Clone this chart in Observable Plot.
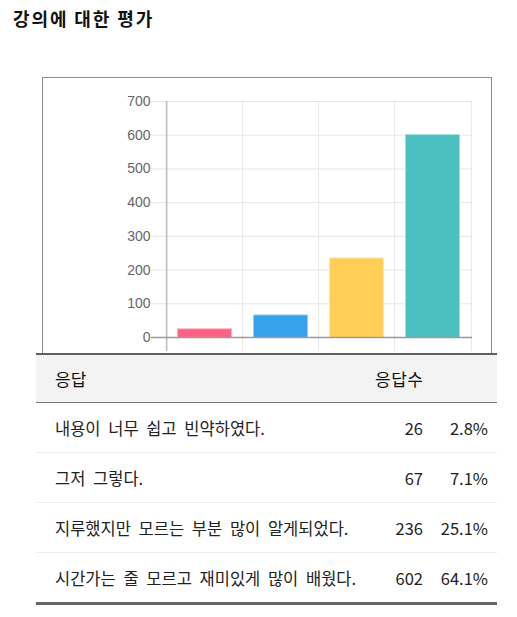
<!DOCTYPE html>
<html>
<head>
<meta charset="utf-8">
<script src="https://cdn.jsdelivr.net/npm/d3@7"></script>
<script src="https://cdn.jsdelivr.net/npm/@observablehq/plot@0.6"></script>
<style>
  html, body { margin: 0; padding: 0; background: #fff; }
  #page { position: relative; width: 517px; height: 617px; overflow: hidden; }
  #title { position: absolute; left: 13px; top: 5px; font: bold 18px "Noto Sans CJK KR", sans-serif; letter-spacing: 1.9px; color: #111; }
  #chartbox { position: absolute; left: 42px; top: 77px; width: 448px; height: 290px; border: 1px solid #8c8c8c; overflow: hidden; background: #fff; }
  #tbl { position: absolute; left: 36px; top: 353px; width: 461px; border-collapse: collapse; table-layout: fixed; background: #fff;
         font: 16.5px "Noto Sans CJK KR", sans-serif; color: #222; border-top: 2px solid #5f5f5f; border-bottom: 3px solid #666; }
  #tbl th { background: #f3f3f3; height: 47px; font-weight: normal; font-size: 17px; color: #111; border-bottom: 1px solid #777; padding: 0; text-align: left; }
  #tbl td { height: 49px; border-bottom: 1px solid #ececec; padding: 0; }
  #tbl tr:last-child td { border-bottom: none; }
  #tbl .c1 { padding-left: 19px; word-spacing: 4px; }
  #tbl .c2 { text-align: right; padding-right: 5px; }
  #tbl .c3 { text-align: right; padding-right: 9px; }
  #tbl th.h2 { padding-left: 5px; letter-spacing: 0.5px; }
</style>
</head>
<body>
<div id="page">
  <div id="title">강의에 대한 평가</div>
  <div id="chartbox"></div>
  <table id="tbl">
    <colgroup><col style="width:334px"><col style="width:58px"><col style="width:69px"></colgroup>
    <thead><tr><th class="c1" id="h1"></th><th class="h2" colspan="2" id="h2"></th></tr></thead>
    <tbody id="tb"></tbody>
  </table>
</div>
<script>
const categories = [
  "내용이 너무 쉽고 빈약하였다.",
  "그저 그렇다.",
  "지루했지만 모르는 부분 많이 알게되었다.",
  "시간가는 줄 모르고 재미있게 많이 배웠다."
];
const counts = [26, 67, 236, 602];
const percents = [2.8, 7.1, 25.1, 64.1];
const barColors = ["#FF6384", "#36A2EB", "#FFCE56", "#4BC0C0"];
const barBorders = ["#ffb1c1", "#9ad0f5", "#ffe6aa", "#a5dfdf"];
const yTicks = [0, 100, 200, 300, 400, 500, 600, 700];
const headers = ["응답", "응답수"];

const data = categories.map((c, i) => ({category: c, count: counts[i], fill: barColors[i], border: barBorders[i]}));

const W = 448, ML = 122, MR = 19;
const step = (W - ML - MR) / categories.length;

const chart = Plot.plot({
  width: W,
  height: 290,
  marginTop: 23,
  marginBottom: 31,
  marginLeft: ML,
  marginRight: MR,
  style: {background: "transparent", fontFamily: "'Liberation Sans', Arial, sans-serif"},
  x: {domain: categories, paddingInner: 0.28, paddingOuter: 0.14, axis: null},
  y: {domain: [0, 700], axis: null},
  color: {type: "identity"},
  marks: [
    Plot.gridY(yTicks, {stroke: "#e6e6e6", strokeOpacity: 1, insetLeft: -14}),
    Plot.ruleX(categories.slice(1), {dx: -step / 2, stroke: "#e6e6e6", strokeOpacity: 1, insetBottom: -14}),
    Plot.ruleX(categories.slice(-1), {dx: step / 2, stroke: "#e6e6e6", strokeOpacity: 1, insetBottom: -14}),
    Plot.barY(data, {x: "category", y: "count", fill: "border"}),
    Plot.barY(data, {x: "category", y: "count", fill: "fill", inset: 1, insetBottom: 0}),
    Plot.ruleX(categories.slice(0, 1), {dx: -step / 2, stroke: "#bdbdbd", strokeWidth: 1.6, insetBottom: -14}),
    Plot.ruleY([0], {stroke: "#9a9a9a", strokeWidth: 1.3, insetLeft: -14}),
    Plot.axisY(yTicks, {tickSize: 0, tickPadding: 15, fill: "#666", fontSize: 14, label: null})
  ]
});
document.getElementById("chartbox").appendChild(chart);

document.getElementById("h1").textContent = headers[0];
document.getElementById("h2").textContent = headers[1];
const tb = document.getElementById("tb");
categories.forEach((c, i) => {
  const tr = document.createElement("tr");
  const a = document.createElement("td"); a.className = "c1"; a.textContent = c;
  const b = document.createElement("td"); b.className = "c2"; b.textContent = counts[i];
  const p = document.createElement("td"); p.className = "c3"; p.textContent = percents[i].toFixed(1) + "%";
  tr.append(a, b, p);
  tb.appendChild(tr);
});
</script>
</body>
</html>
